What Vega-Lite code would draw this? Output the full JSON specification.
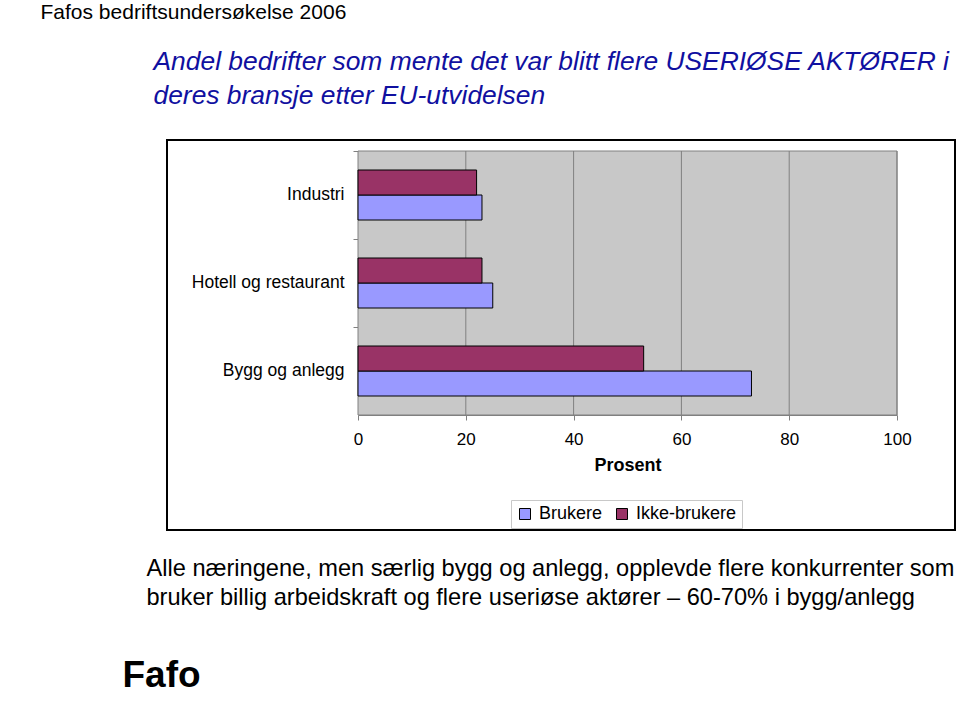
{
  "$schema": "https://vega.github.io/schema/vega-lite/v6.json",
  "width": 788,
  "height": 390,
  "autosize": {"type": "none"},
  "padding": {"left": 167, "top": 140, "right": 5, "bottom": 171},
  "background": "white",
  "config": {
    "view": {"stroke": "black", "strokeWidth": 2},
    "font": "Liberation Sans",
    "axis": {"labelFont": "Liberation Sans", "titleFont": "Liberation Sans", "grid": false}
  },
  "resolve": {
    "scale": {"y": "independent"},
    "axis": {"x": "independent", "y": "independent"}
  },
  "layer": [
    {
      "data": {"values": [{}]},
      "mark": {"type": "rect", "fill": "#C8C8C8", "stroke": "#808080", "strokeWidth": 1},
      "encoding": {
        "x": {"datum": 0, "type": "quantitative", "scale": {"domain": [0, 100], "range": [191, 730]}, "axis": null},
        "x2": {"datum": 100},
        "y": {
          "datum": 0, "type": "quantitative",
          "scale": {"domain": [0, 1], "range": [275, 11]},
          "axis": {
            "orient": "left", "domain": false, "ticks": false, "labels": false, "grid": false,
            "title": "Fafos bedriftsundersøkelse 2006",
            "titleAngle": 0, "titleX": -127, "titleY": -122, "titleAlign": "left", "titleBaseline": "alphabetic",
            "titleFontSize": 21, "titleFontWeight": "normal", "titleColor": "black"
          }
        },
        "y2": {"datum": 1}
      }
    },
    {
      "data": {"values": [{"v": 20}, {"v": 40}, {"v": 60}, {"v": 80}, {"v": 100}]},
      "mark": {"type": "rule", "color": "#808080", "strokeWidth": 1},
      "encoding": {
        "x": {
          "field": "v", "type": "quantitative",
          "scale": {"domain": [0, 100], "range": [191, 730]},
          "axis": {
            "orient": "top", "domain": false, "ticks": false, "labels": false, "grid": false,
            "title": ["Andel bedrifter som mente det var blitt flere USERIØSE AKTØRER i", "deres bransje etter EU-utvidelsen"],
            "titleX": -14, "titleY": -71, "titleAlign": "left", "titleAnchor": "start", "titleBaseline": "alphabetic",
            "titleFontSize": 26.4, "titleFontStyle": "italic", "titleFontWeight": "normal", "titleColor": "#1010A0",
            "titleLineHeight": 34
          }
        },
        "y": {
          "datum": 0, "type": "quantitative",
          "scale": {"domain": [0, 1], "range": [275, 11]},
          "axis": {
            "orient": "right", "domain": false, "ticks": false, "labels": false, "grid": false,
            "title": ["Alle næringene, men særlig bygg og anlegg, opplevde flere konkurrenter som", "bruker billig arbeidskraft og flere useriøse aktører – 60-70% i bygg/anlegg"],
            "titleAngle": 0, "titleX": -809, "titleY": 435, "titleAlign": "left", "titleBaseline": "alphabetic",
            "titleFontSize": 23.6, "titleFontWeight": "normal", "titleColor": "black", "titleLineHeight": 29
          }
        },
        "y2": {"datum": 1}
      }
    },
    {
      "data": {
        "values": [
          {"bransje": "Industri", "gruppe": "Brukere", "prosent": 23},
          {"bransje": "Industri", "gruppe": "Ikke-brukere", "prosent": 22},
          {"bransje": "Hotell og restaurant", "gruppe": "Brukere", "prosent": 25},
          {"bransje": "Hotell og restaurant", "gruppe": "Ikke-brukere", "prosent": 23},
          {"bransje": "Bygg og anlegg", "gruppe": "Brukere", "prosent": 73},
          {"bransje": "Bygg og anlegg", "gruppe": "Ikke-brukere", "prosent": 53}
        ]
      },
      "mark": {"type": "bar", "stroke": "black", "strokeWidth": 1},
      "encoding": {
        "y": {
          "field": "bransje", "type": "nominal",
          "sort": ["Industri", "Hotell og restaurant", "Bygg og anlegg"],
          "scale": {"range": [11, 275], "paddingInner": 0, "paddingOuter": 0},
          "axis": {
            "orient": "left", "offset": -191, "domain": true, "domainColor": "#A0A0A0", "ticks": true,
            "tickColor": "#808080", "tickSize": 5, "bandPosition": 0,
            "labelFontSize": 17.5, "labelColor": "black", "labelPadding": 9, "labelLimit": 300,
            "title": "Fafo", "titleAngle": 0, "titleX": -236, "titleY": 546, "titleAlign": "left",
            "titleBaseline": "alphabetic", "titleFontSize": 37, "titleFontWeight": "bold", "titleColor": "black"
          }
        },
        "yOffset": {
          "field": "gruppe", "type": "nominal",
          "sort": ["Ikke-brukere", "Brukere"],
          "scale": {"paddingInner": 0, "paddingOuter": 0.76}
        },
        "x": {
          "field": "prosent", "type": "quantitative",
          "scale": {"domain": [0, 100], "range": [191, 730]},
          "axis": {
            "orient": "bottom", "offset": -115, "values": [0, 20, 40, 60, 80, 100],
            "domainColor": "#808080", "tickColor": "#808080", "tickSize": 5,
            "labelFontSize": 17, "labelColor": "black", "labelPadding": 11, "labelFlush": false, "labelOverlap": false,
            "title": "Prosent", "titleFontSize": 18, "titleFontWeight": "bold", "titleColor": "black", "titlePadding": 9
          }
        },
        "color": {
          "field": "gruppe", "type": "nominal",
          "scale": {"domain": ["Brukere", "Ikke-brukere"], "range": ["#9999FF", "#993366"]},
          "legend": {
            "orient": "none", "legendX": 344, "legendY": 360, "direction": "horizontal", "title": null,
            "symbolType": "square", "symbolSize": 121, "symbolStrokeColor": "black", "symbolStrokeWidth": 1,
            "labelFontSize": 18, "labelColor": "black", "labelOffset": 5, "columnPadding": 10,
            "strokeColor": "#C8C8C8", "fillColor": "white", "padding": 5
          }
        }
      }
    }
  ]
}
